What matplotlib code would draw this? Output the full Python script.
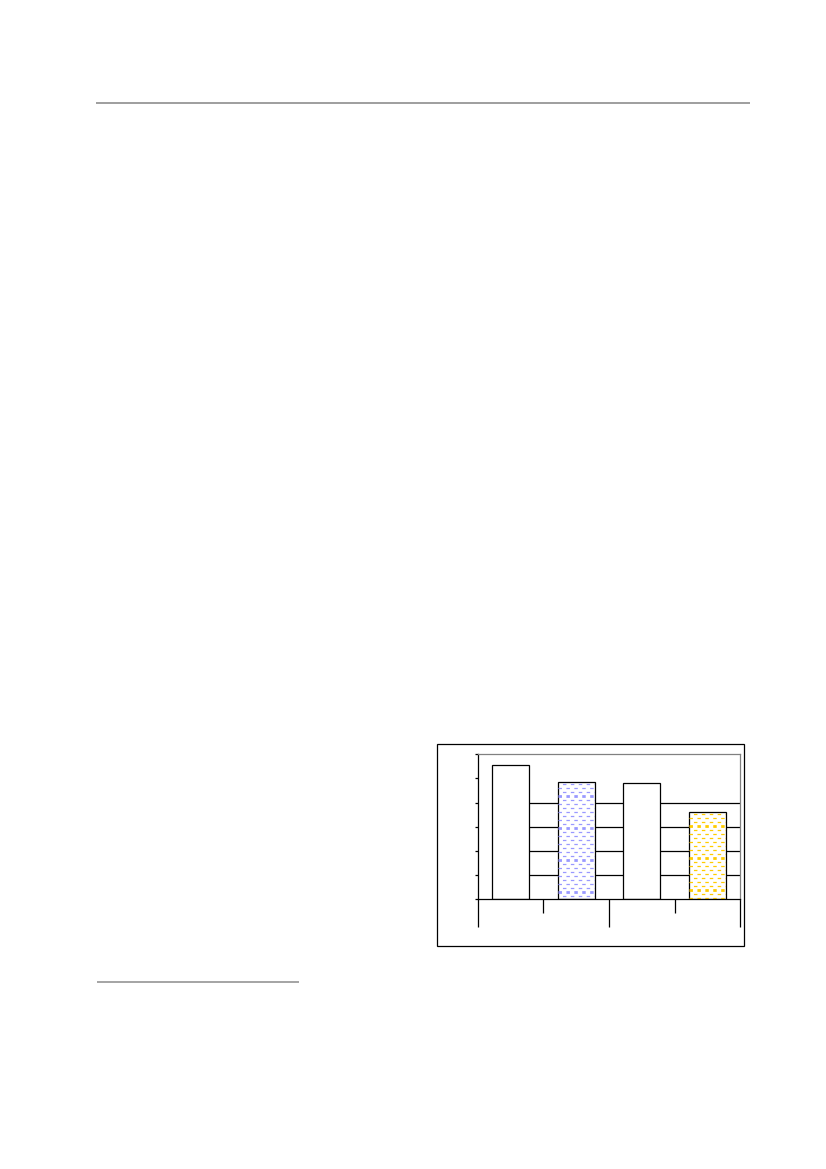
import matplotlib
matplotlib.use('Agg')
import matplotlib.pyplot as plt
from matplotlib.lines import Line2D
from matplotlib.patches import Rectangle
import numpy as np

# Chart data
categories = ['', '', '', '']
groups = ['', '']
values = [5.55, 4.85, 4.8, 3.6]
y_ticks = [0, 1, 2, 3, 4, 5, 6]
grid_levels = [1, 2, 3, 4]
hatch_colors = [None, '#9999ff', None, '#ffcc00']

plt.rcParams['lines.scale_dashes'] = False

W, H = 826, 1169
fig = plt.figure(figsize=(W / 100, H / 100), dpi=100)


def fx(px):
    return px / W


def fy(py):
    return 1 - py / H


# page rules
fig.add_artist(Line2D([fx(97), fx(749)], [fy(103), fy(103)], color='#a0a0a0', lw=1.44))
fig.add_artist(Line2D([fx(98), fx(298)], [fy(982), fy(982)], color='#a6a6a6', lw=1.44))

# chart frame
fig.add_artist(Rectangle((fx(436.7), fy(946)), fx(744.3) - fx(436.7), fy(744.3) - fy(946),
                         fill=False, edgecolor='black', lw=0.9))

ax = fig.add_axes([fx(477.7), fy(899.3), fx(740.3) - fx(477.7), fy(754.3) - fy(899.3)])
x = np.arange(len(values))
width = 0.56
ax.set_xlim(-0.5, len(values) - 0.5)
ax.set_ylim(0, 6)

# gridlines (start right of the first bar)
ax.hlines(grid_levels, x[0] + width / 2, len(values) - 0.5, color='black', lw=0.9, zorder=1)

bars = ax.bar(x, values, width=width, color='white', edgecolor='black', lw=0.9, zorder=2)

# dashed fill pattern
step = 0.1655
for bar, val, col in zip(bars, values, hatch_colors):
    if col is None:
        continue
    x0, x1 = bar.get_x(), bar.get_x() + bar.get_width()
    for i, yy in enumerate(np.arange(val - 0.06, 0, -step)):
        thick = (i % 8) == 3
        ln, = ax.plot([x0, x1], [yy, yy], color=col,
                      lw=2.0 if thick else 0.9,
                      linestyle=((0 if i % 2 else 2.5), (2.5, 3.2)), zorder=3)
        ln.set_clip_path(bar)

for s in ['top', 'right']:
    ax.spines[s].set_color('#808080')
    ax.spines[s].set_linewidth(0.9)
for s in ['left', 'bottom']:
    ax.spines[s].set_color('black')
    ax.spines[s].set_linewidth(0.9)

ax.set_yticks(y_ticks)
ax.set_yticklabels([''] * len(y_ticks))
ax.tick_params(axis='y', direction='out', length=2.5, width=0.9, color='black')

# two-level category axis
ax.set_xticks([-0.5, 1.5, 3.5])
ax.set_xticklabels(['', '', ''])
ax.set_xticks([0.5, 2.5], minor=True)
ax.tick_params(axis='x', which='major', direction='out', length=20.2, width=0.9, color='black')
ax.tick_params(axis='x', which='minor', direction='out', length=10.1, width=0.9, color='black')
ax.spines['bottom'].set_zorder(4)

fig.savefig('out.png', dpi=100)
